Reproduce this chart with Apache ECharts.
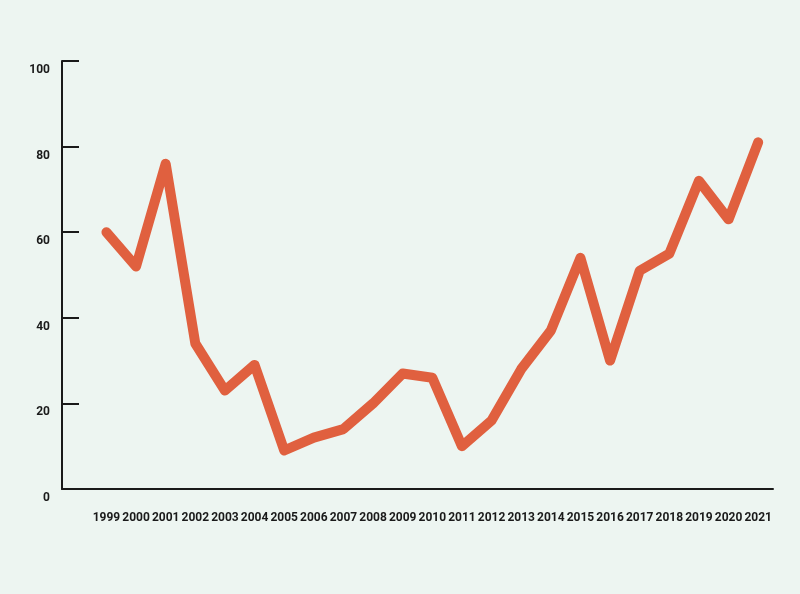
<!DOCTYPE html>
<html>
<head>
<meta charset="utf-8">
<script src="https://cdn.jsdelivr.net/npm/echarts@6/dist/echarts.min.js"></script>
<style>
html,body{margin:0;padding:0;background:#EDF5F1;}
#chart{width:800px;height:594px;}
</style>
</head>
<body>
<div id="chart"></div>
<script>
const years = ['', '1999','2000','2001','2002','2003','2004','2005','2006','2007','2008','2009','2010','2011','2012','2013','2014','2015','2016','2017','2018','2019','2020','2021'];
const values = [null, 60, 52, 76, 34, 23, 29, 9, 12, 14, 20, 27, 26, 10, 16, 28, 37, 54, 30, 51, 55, 72, 63, 81];
const yTicks = [0, 20, 40, 60, 80, 100];

const chart = echarts.init(document.getElementById('chart'), null, {renderer: 'canvas'});
chart.setOption({
  backgroundColor: '#EDF5F1',
  animation: false,
  grid: {left: 62, right: 27, top: 61, bottom: 105},
  xAxis: {
    type: 'category',
    data: years,
    boundaryGap: true,
    axisLine: {lineStyle: {color: '#1a1a1a', width: 2}},
    axisTick: {inside: true, length: 10, lineStyle: {color: '#1a1a1a', width: 2}, interval: 0},
    axisLabel: {interval: 0, margin: 23, color: '#1a1a1a', fontFamily: 'Roboto', fontWeight: 'bold', fontSize: 12},
    splitLine: {show: false}
  },
  yAxis: {
    type: 'value',
    min: yTicks[0],
    max: yTicks[yTicks.length - 1],
    interval: 20,
    axisLine: {show: true, lineStyle: {color: '#1a1a1a', width: 2}},
    axisTick: {show: true, inside: true, length: 17, lineStyle: {color: '#1a1a1a', width: 2}},
    axisLabel: {margin: 12, color: '#1a1a1a', fontFamily: 'Roboto', fontWeight: 'bold', fontSize: 12, verticalAlign: 'top', padding: [3, 0, 0, 0]},
    splitLine: {show: false}
  },
  series: [{
    type: 'line',
    data: values,
    symbol: 'none',
    connectNulls: false,
    lineStyle: {color: '#E0603F', width: 10, cap: 'round', join: 'round'}
  }]
});
</script>
</body>
</html>
